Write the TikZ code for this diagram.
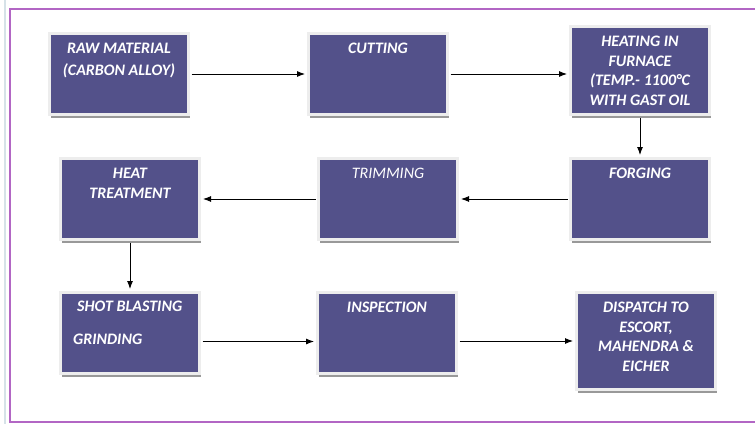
\documentclass[tikz,border=0pt]{standalone}
\usepackage{fontspec}
\setmainfont{Carlito}
\usepackage{tikz}
\usetikzlibrary{positioning,shadows,arrows.meta}
\definecolor{boxblue}{RGB}{83,81,138}
\definecolor{framepurple}{RGB}{178,102,196}
\definecolor{edgegrey}{RGB}{214,226,232}

\begin{document}
\begin{tikzpicture}[x=1pt, y=1pt, >={Latex[length=8pt,width=6pt]}, node distance={40pt},
  box/.style = {draw=black!7, line width=3pt, fill=boxblue, minimum width=139pt, minimum height=81pt, inner sep=0pt,
    drop shadow={shadow xshift=1.5pt, shadow yshift=-3pt, fill=black!40, opacity=1}},
  txt/.style = {text=white, font=\bfseries\itshape\fontsize{16}{19.5}\selectfont, align=center, inner sep=0pt},
  flow/.style = {->, line width=0.9pt, shorten <=1.5pt, shorten >=2pt}]
\useasboundingbox (0,0) rectangle (755,424);
\draw[edgegrey, line width=1.5pt] (5,424) -- (5,0);
\draw[framepurple, line width=2pt] (10,415) rectangle (770,2);

\node[box] (raw) at (119,350) {};
\node[box] (cut) [right=117pt of raw] {};
\node[box, minimum height=88pt] (heat) [right=120pt of cut.south east, anchor=south west] {};
\node[box] (forge) [below=41pt of heat] {};
\node[box] (trim) [left=110pt of forge] {};
\node[box] (treat) [left=116pt of trim] {};
\node[box] (shot) [below=50pt of treat] {};
\node[box] (insp) [right=115pt of shot] {};
\node[box, minimum height=97pt] (disp) [right=117pt of insp.north east, anchor=north west] {};

\node[txt] (rawtxt) [below=11pt of raw.north] {RAW MATERIAL\\[2.5pt](CARBON ALLOY)};
\node[txt] (cuttxt) [below=11pt of cut.north] {CUTTING};
\node[txt] (heattxt) [below=11pt of heat.north] {HEATING IN\\FURNACE\\(TEMP.- 1100°C\\WITH GAST OIL};
\node[txt] (forgetxt) [below=11pt of forge.north] {FORGING};
\node[txt, font=\itshape\fontsize{16}{19.5}\selectfont] (trimtxt) [below=11pt of trim.north] {TRIMMING};
\node[txt] (treattxt) [below=11pt of treat.north] {HEAT\\TREATMENT};
\node[txt, align=left] (shottxt) [below right=10pt and 14pt of shot.north west] {\hspace{4pt}SHOT BLASTING\\[13.5pt]GRINDING};
\node[txt] (insptxt) [below=11pt of insp.north] {INSPECTION};
\node[txt] (disptxt) [below=11pt of disp.north] {DISPATCH TO\\ESCORT,\\MAHENDRA \&\\EICHER};

\draw[flow] (raw) -- (cut);
\draw[flow] (cut) -- (cut -| heat.west);
\draw[flow] (heat) -- (forge);
\draw[flow] (forge) -- (trim);
\draw[flow] (trim) -- (treat);
\draw[flow] (treat) -- (shot);
\draw[flow] ([yshift=-8.5pt]shot.east) -- ([yshift=-8.5pt]insp.west);
\draw[flow] (insp.east |- disp.west) -- (disp.west);

\end{tikzpicture}
\end{document}
